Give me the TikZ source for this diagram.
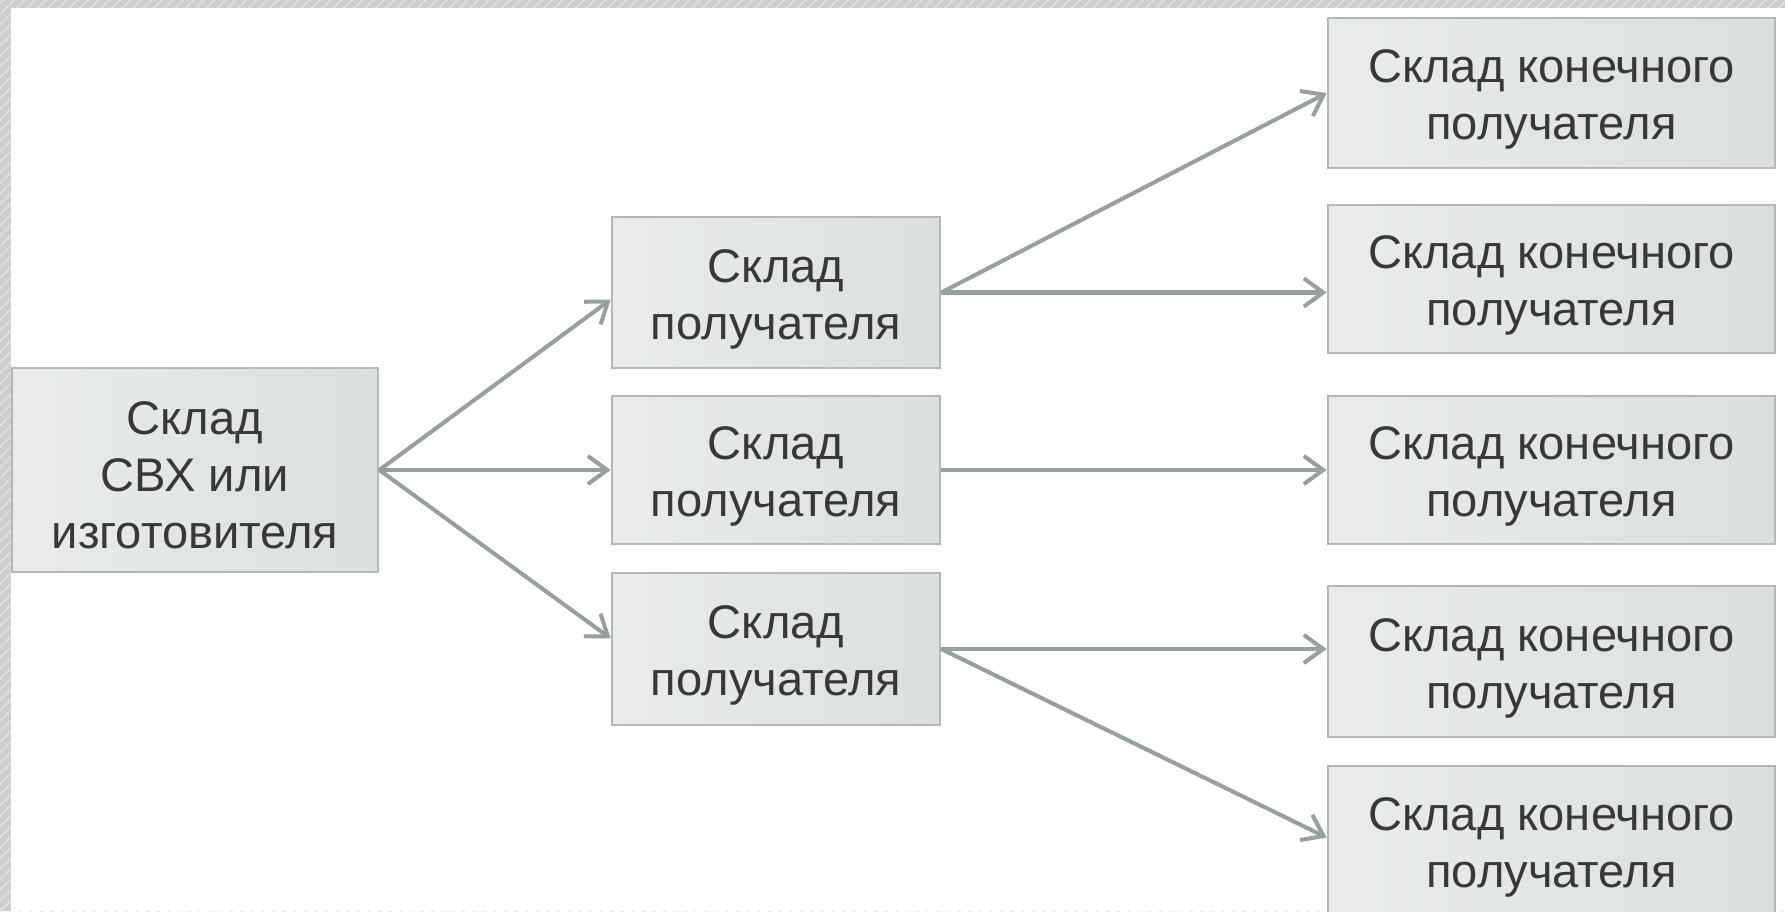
\documentclass[tikz,border=0pt]{standalone}
\usepackage{fontspec}
\setmainfont{Liberation Sans}
\usetikzlibrary{arrows.meta,patterns}
\definecolor{boxL}{RGB}{233,236,234}
\definecolor{boxR}{RGB}{219,224,221}
\definecolor{boxline}{RGB}{178,184,181}
\definecolor{arrowcol}{RGB}{150,160,156}
\definecolor{txtcol}{RGB}{56,56,56}
\definecolor{hatchbg}{RGB}{206,206,206}
\definecolor{hatchfg}{RGB}{226,226,226}

\begin{document}
\begin{tikzpicture}[x=0.01cm,y=-0.01cm,
  box/.style={draw=boxline,line width=0.7pt,left color=boxL,right color=boxR,
    align=center,text=txtcol,inner sep=0pt,font=\fontsize{13.4}{16.3}\selectfont},
  mid/.style={box,minimum width=3.28cm,text height=29.4pt},
  dest/.style={box,minimum width=4.47cm,text height=29.4pt},
  arr/.style={draw=arrowcol,line width=1.15pt,-{Straight Barb[length=5.5pt,width=8pt]}}]
  \useasboundingbox (0,0) rectangle (1785,911);
  \fill[hatchbg] (0,0) rectangle (1785,911);
  \fill[pattern=north east lines,pattern color=hatchfg] (0,0) rectangle (1785,911);
  \fill[white] (11,8) rectangle (1785,911);

  \node[box,minimum width=3.66cm,minimum height=2.04cm,text height=45pt] (src) at (195,470) {Склад\\СВХ или\\изготовителя};

  \node[mid,minimum height=1.51cm] (m1) at (776,292.5) {Склад\\получателя};
  \node[mid,minimum height=1.48cm] (m2) at (776,470) {Склад\\получателя};
  \node[mid,minimum height=1.52cm] (m3) at (776,649) {Склад\\получателя};

  \node[dest,minimum height=1.50cm] (r1) at (1551.5,93) {Склад конечного\\получателя};
  \node[dest,minimum height=1.48cm] (r2) at (1551.5,279) {Склад конечного\\получателя};
  \node[dest,minimum height=1.48cm] (r3) at (1551.5,470) {Склад конечного\\получателя};
  \node[dest,minimum height=1.51cm] (r4) at (1551.5,661.5) {Склад конечного\\получателя};
  \node[dest,minimum height=1.50cm] (r5) at (1551.5,841) {Склад конечного\\получателя};

  \draw[arr] (src.east) -- ([yshift=-2pt]m1.west);
  \draw[arr] (src.east) -- (m2.west);
  \draw[arr] (src.east) -- ([yshift=3pt]m3.west);

  \draw[arr] (m1.east) -- (r1.west);
  \draw[arr] (m1.east) -- (m1.east -| r2.west);
  \draw[arr] (m2.east) -- (r3.west);
  \draw[arr] (m3.east) -- (m3.east -| r4.west);
  \draw[arr] (m3.east) -- ([yshift=1pt]r5.west);
\end{tikzpicture}
\end{document}
